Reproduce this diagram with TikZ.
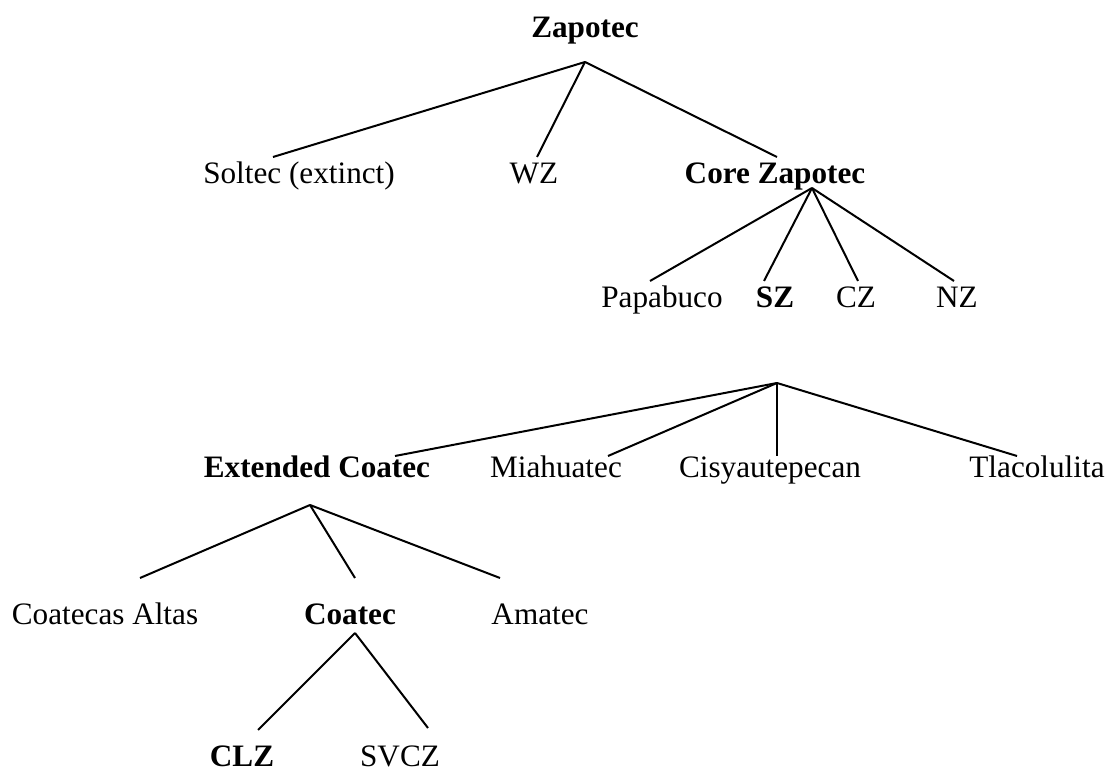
\documentclass[tikz,border=0pt]{standalone}
\usepackage{fontspec}
\setmainfont{Liberation Serif}
\newcommand{\langfont}{\fontsize{15.6}{18}\selectfont}

\begin{document}
\begin{tikzpicture}[x=0.5pt,y=-0.5pt,line width=1pt]
    \tikzstyle{lang}=[anchor=base,inner sep=0pt,font=\langfont]
    \tikzstyle{group}=[lang,font=\langfont\bfseries]
    \useasboundingbox (0,0) rectangle (1110,774);

    % Draw the family node and its first split
    \node[group] (Z) at (585,38) {Zapotec};
    \coordinate (Z-b) at (585,62);

    \node[lang] (Sol) at (299,184) {Soltec (extinct)};
    \node[lang] (WZ) at (534,184) {WZ};
    \node[group] (Core) at (775,184) {Core Zapotec};
    \coordinate (Sol-t) at (273,157);
    \coordinate (WZ-t) at (537,157);
    \coordinate (Core-t) at (777,157);
    \coordinate (Core-b) at (812,188);

    % Core Zapotec
    \node[lang] (Pap) at (662,308) {Papabuco};
    \node[group] (SZ) at (775,308) {SZ};
    \node[lang] (CZ) at (856,308) {CZ};
    \node[lang] (NZ) at (957,308) {NZ};
    \coordinate (Pap-t) at (650,281);
    \coordinate (SZ-t) at (764,281);
    \coordinate (CZ-t) at (858,281);
    \coordinate (NZ-t) at (954,281);
    \coordinate (SZ-b) at (777,383);

    % SZ
    \node[group] (Ext) at (317,478) {Extended Coatec};
    \node[lang] (Mia) at (556,478) {Miahuatec};
    \node[lang] (Cis) at (770,478) {Cisyautepecan};
    \node[lang] (Tla) at (1037,478) {Tlacolulita};
    \coordinate (Ext-t) at (395,456);
    \coordinate (Mia-t) at (608,456);
    \coordinate (Cis-t) at (777,456);
    \coordinate (Tla-t) at (1017,456);
    \coordinate (Ext-b) at (310,505);

    % Extended Coatec
    \node[lang] (CA) at (105,625) {Coatecas Altas};
    \node[group] (Coa) at (350,625) {Coatec};
    \node[lang] (Ama) at (540,625) {Amatec};
    \coordinate (CA-t) at (140,578);
    \coordinate (Coa-t) at (355,578);
    \coordinate (Ama-t) at (500,578);
    \coordinate (Coa-b) at (355,633);

    % Coatec
    \node[group] (CLZ) at (242,767) {CLZ};
    \node[lang] (SVCZ) at (400,767) {SVCZ};
    \coordinate (CLZ-t) at (258,730);
    \coordinate (SVCZ-t) at (428,728);

    % Connect every parent with its daughters
    \foreach \child in {Sol,WZ,Core}
        \draw (Z-b) -- (\child-t);
    \foreach \child in {Pap,SZ,CZ,NZ}
        \draw (Core-b) -- (\child-t);
    \foreach \child in {Ext,Mia,Cis,Tla}
        \draw (SZ-b) -- (\child-t);
    \foreach \child in {CA,Coa,Ama}
        \draw (Ext-b) -- (\child-t);
    \foreach \child in {CLZ,SVCZ}
        \draw (Coa-b) -- (\child-t);
\end{tikzpicture}
\end{document}
